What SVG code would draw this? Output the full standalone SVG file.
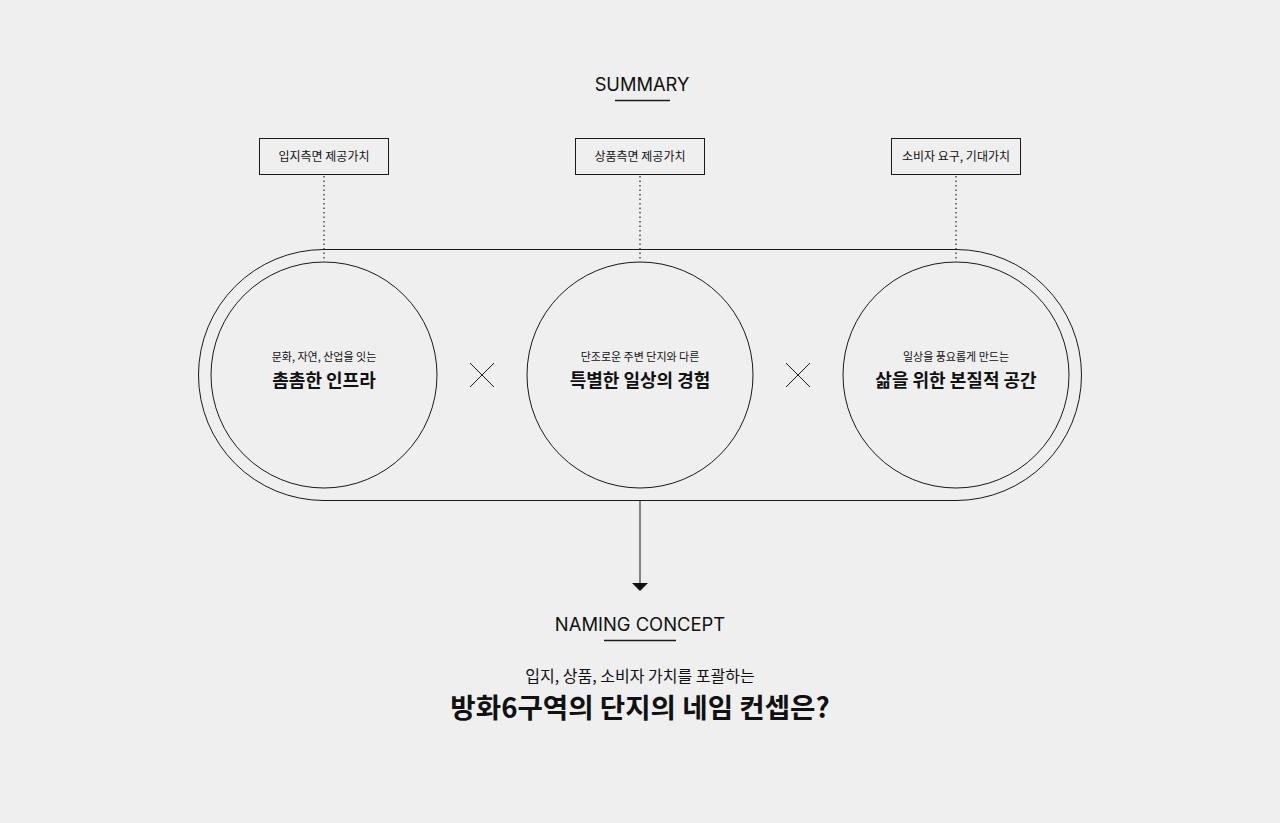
<svg xmlns="http://www.w3.org/2000/svg" width="1280" height="823" viewBox="0 0 1280 823">
<style>
.ln{fill:none;stroke:#1a1a1a;stroke-width:1}
.box{fill:#efefef;stroke:#1a1a1a;stroke-width:1}
.dot{stroke:#333;stroke-width:1.3;stroke-dasharray:1.5 3;fill:none}
.t{font-family:"Noto Sans CJK KR","Noto Sans",sans-serif;fill:#111;text-anchor:middle}
.en{font-family:"Inter","Liberation Sans",sans-serif;fill:#111;text-anchor:middle}
</style>
<rect width="1280" height="823" fill="#efefef"/>
<g id="summary-title">
<text class="en" x="642" y="91" font-size="18.3">SUMMARY</text>
<line x1="615" y1="100.5" x2="670" y2="100.5" stroke="#1a1a1a" stroke-width="1.5"/>
</g>
<g id="frame">
<rect class="ln" x="198.5" y="249.5" width="883" height="251" rx="125.5" ry="125.5"/>
</g>
<g id="connectors">
<line class="dot" x1="324" y1="176" x2="324" y2="259"/>
<line class="dot" x1="640" y1="176" x2="640" y2="259"/>
<line class="dot" x1="956" y1="176" x2="956" y2="259"/>
<line x1="640" y1="501" x2="640" y2="583" stroke="#1a1a1a" stroke-width="1"/>
<polygon points="632,583 648,583 640,591" fill="#111"/>
<path class="ln" d="M470,363 L494,387 M494,363 L470,387"/>
<path class="ln" d="M786,363 L810,387 M810,363 L786,387"/>
</g>
<g id="box1">
<rect class="box" x="259.5" y="138.5" width="129" height="36"/>
<text class="t" x="324" y="161" font-size="12">입지측면 제공가치</text>
</g>
<g id="box2">
<rect class="box" x="575.5" y="138.5" width="129" height="36"/>
<text class="t" x="640" y="161" font-size="12">상품측면 제공가치</text>
</g>
<g id="box3">
<rect class="box" x="891.5" y="138.5" width="129" height="36"/>
<text class="t" x="956" y="161" font-size="12">소비자 요구, 기대가치</text>
</g>
<g id="circle1">
<circle class="ln" cx="324" cy="375" r="113"/>
<text class="t" x="324" y="361" font-size="11">문화, 자연, 산업을 잇는</text>
<text class="t" x="324" y="387" font-size="18" font-weight="700">촘촘한 인프라</text>
</g>
<g id="circle2">
<circle class="ln" cx="640" cy="375" r="113"/>
<text class="t" x="640" y="361" font-size="11">단조로운 주변 단지와 다른</text>
<text class="t" x="640" y="387" font-size="18" font-weight="700">특별한 일상의 경험</text>
</g>
<g id="circle3">
<circle class="ln" cx="956" cy="375" r="113"/>
<text class="t" x="956" y="361" font-size="11">일상을 풍요롭게 만드는</text>
<text class="t" x="956" y="387" font-size="18" font-weight="700">삶을 위한 본질적 공간</text>
</g>
<g id="naming">
<text class="en" x="640" y="631" font-size="18.4">NAMING CONCEPT</text>
<line x1="604" y1="640.5" x2="676" y2="640.5" stroke="#1a1a1a" stroke-width="1.5"/>
<text class="t" x="640" y="682" font-size="16">입지, 상품, 소비자 가치를 포괄하는</text>
<text class="t" x="640" y="718" font-size="27.6" font-weight="700">방화6구역의 단지의 네임 컨셉은?</text>
</g>
</svg>
